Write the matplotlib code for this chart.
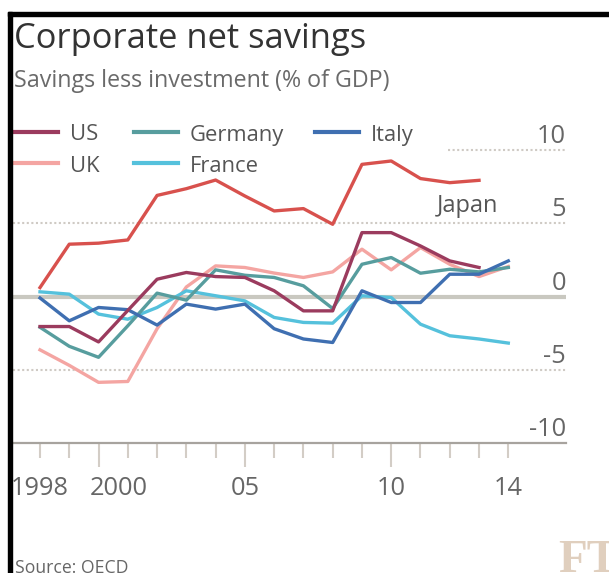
import matplotlib
matplotlib.use("Agg")
import matplotlib.pyplot as plt
from matplotlib.patches import Rectangle
from matplotlib.lines import Line2D
import matplotlib.transforms as mtransforms

# ---------------- data ----------------
years = list(range(1998, 2015))
years_jp_us = list(range(1998, 2014))
japan = [0.61, 3.57, 3.64, 3.86, 6.9, 7.36, 7.95, 6.86, 5.84, 6.0, 4.93, 9.02, 9.25, 8.05, 7.77, 7.93]
us = [-2.05, -2.05, -3.1, -0.95, 1.18, 1.64, 1.36, 1.3, 0.39, -0.98, -0.98, 4.36, 4.36, 3.45, 2.43, 1.98]
uk = [-3.64, -4.7, -5.86, -5.8, -2.2, 0.65, 2.09, 1.98, 1.6, 1.3, 1.68, 3.23, 1.82, 3.34, 2.2, 1.36, 2.05]
germany = [-2.1, -3.4, -4.15, -2.0, 0.23, -0.25, 1.82, 1.45, 1.3, 0.73, -0.82, 2.2, 2.66, 1.59, 1.86, 1.68, 1.98]
italy = [-0.1, -1.66, -0.75, -0.9, -1.95, -0.52, -0.86, -0.52, -2.2, -2.9, -3.14, 0.39, -0.41, -0.41, 1.52, 1.52, 2.43]
france = [0.32, 0.16, -1.2, -1.55, -0.75, 0.39, 0.05, -0.3, -1.43, -1.77, -1.82, 0.05, -0.07, -1.89, -2.68, -2.9, -3.18]

xtick_labels = ["1998", "2000", "05", "10", "14"]
xtick_pos = [1998, 2000, 2005, 2010, 2014]
ytick_vals = [10, 5, 0, -5, -10]
ytick_labels = ["10", "5", "0", "-5", "-10"]

colors = {
    "Japan": "#d8514d",
    "US": "#9b3b5e",
    "UK": "#f4a5a2",
    "Germany": "#579d9e",
    "Italy": "#3f6fb1",
    "France": "#55c1dc",
}

FONT = "Open Sans"
W, H = 609, 573
fig = plt.figure(figsize=(W / 100, H / 100), dpi=100)
fig.patch.set_facecolor("white")
renderer = fig.canvas.get_renderer()


def fx(x):
    return x / W


def fy(y):
    return 1 - y / H


def fit(t, target_w):
    bb = t.get_window_extent(renderer)
    t.set_fontsize(t.get_fontsize() * target_w / bb.width)
    return t


# ---------------- axes ----------------
x_left_px, x_right_px = 13, 566
y_top_px, y_bot_px = 150, 443
px_per_year = (508.3 - 40) / 16
xmin = 1998 - (40 - x_left_px) / px_per_year
xmax = 2014 + (x_right_px - 508.3) / px_per_year

ax = fig.add_axes([fx(x_left_px), fy(y_bot_px), (x_right_px - x_left_px) / W,
                   (y_bot_px - y_top_px) / H])
ax.set_xlim(xmin, xmax)
ax.set_ylim(-10, 10)
ax.patch.set_alpha(0)
for s in ["top", "left", "right"]:
    ax.spines[s].set_visible(False)
ax.spines["bottom"].set_color("#a7a39e")
ax.spines["bottom"].set_linewidth(1.6)
ax.set_yticks([])

ax.set_xticks([2000, 2005, 2010])
ax.set_xticks([y for y in years if y not in (2000, 2005, 2010)], minor=True)
ax.tick_params(axis="x", which="major", length=17.5, width=1.5, color="#d3cdc6",
               labelbottom=False)
ax.tick_params(axis="x", which="minor", length=11, width=1.5, color="#d3cdc6",
               labelbottom=False)

# gridlines
dot = dict(color="#cfcac4", lw=1.5, linestyle=(0, (1, 1.2)), zorder=1)
ax.axhline(5, **dot)
ax.axhline(-5, **dot)
ax.plot([1998 + (448 - 40) / px_per_year, xmax], [10, 10], clip_on=False, **dot)
ax.axhline(0, color="#c9c8c0", lw=3, zorder=1)

# lines
lw = 2.4
ax.plot(years, uk, color=colors["UK"], lw=lw, zorder=3)
ax.plot(years, france, color=colors["France"], lw=lw, zorder=3)
ax.plot(years, germany, color=colors["Germany"], lw=lw, zorder=3)
ax.plot(years, italy, color=colors["Italy"], lw=lw, zorder=4)
ax.plot(years_jp_us, us, color=colors["US"], lw=lw, zorder=5)
ax.plot(years_jp_us, japan, color=colors["Japan"], lw=lw, zorder=5)

# Japan label
t = ax.text(2012.6, 7.0, "Japan", ha="center", va="top", color="#555555",
            family=FONT, fontsize=12)
fit(t, 61)

# tick font size from "1998" width
probe = fig.text(0, 0, "1998", family=FONT, fontsize=12)
fit(probe, 58)
fs_tick = probe.get_fontsize()
probe.remove()

# y tick labels
ytrans = mtransforms.offset_copy(
    mtransforms.blended_transform_factory(ax.transAxes, ax.transData),
    fig=fig, x=0, y=7, units="dots")
for v, lab in zip(ytick_vals, ytick_labels):
    ax.text(1.0, v, lab, ha="right", va="baseline", color="#666666",
            family=FONT, fontsize=fs_tick, transform=ytrans)

# x tick labels
xtrans = mtransforms.offset_copy(
    mtransforms.blended_transform_factory(ax.transData, ax.transAxes),
    fig=fig, x=0, y=-52, units="dots")
for pos, lab in zip(xtick_pos, xtick_labels):
    xp = pos
    if lab == "2000":
        xp = 2000 + (118.5 - 98.5) / px_per_year
    ax.text(xp, 0, lab, ha="center", va="baseline", color="#666666",
            family=FONT, fontsize=fs_tick, transform=xtrans)

# ---------------- titles ----------------
t = fig.text(fx(14), fy(48), "Corporate net savings", ha="left", va="baseline",
             color="#333333", family=FONT, fontsize=24)
fit(t, 353)
t = fig.text(fx(14), fy(87), "Savings less investment (% of GDP)", ha="left",
             va="baseline", color="#6a6a6a", family=FONT, fontsize=14)
fit(t, 378)

# ---------------- legend ----------------
leg_items = [("US", 14, 131.5), ("Germany", 134, 131.5), ("Italy", 315, 131.5),
             ("UK", 14, 163), ("France", 134, 163)]
legend_texts = []
for name, x0, yy in leg_items:
    fig.add_artist(Line2D([fx(x0), fx(x0 + 44)], [fy(yy), fy(yy)],
                          color=colors[name], lw=3, transform=fig.transFigure))
    tt = fig.text(fx(x0 + 56), fy(yy + 9), name, ha="left", va="baseline",
                  color="#555555", family=FONT, fontsize=14)
    legend_texts.append(tt)
fit(legend_texts[1], 95)
for tt in legend_texts:
    tt.set_fontsize(legend_texts[1].get_fontsize())

# source
t = fig.text(fx(15), fy(559), "Source: OECD", ha="left", va="top",
             color="#666666", family=FONT, fontsize=11)
fit(t, 113)

# FT logo
t = fig.text(fx(558), fy(540), "FT", ha="left", va="top", color="#e0cfbe",
             family="Liberation Serif", fontweight="bold", fontsize=30)
fit(t, 60)

# black frame
fig.add_artist(Rectangle((fx(8), 0), 4 / W, fy(12), transform=fig.transFigure,
                         color="black", zorder=10))
fig.add_artist(Rectangle((fx(8), fy(16)), 1 - fx(8), 4 / H,
                         transform=fig.transFigure, color="black", zorder=10))

fig.savefig("out.png", dpi=100)
